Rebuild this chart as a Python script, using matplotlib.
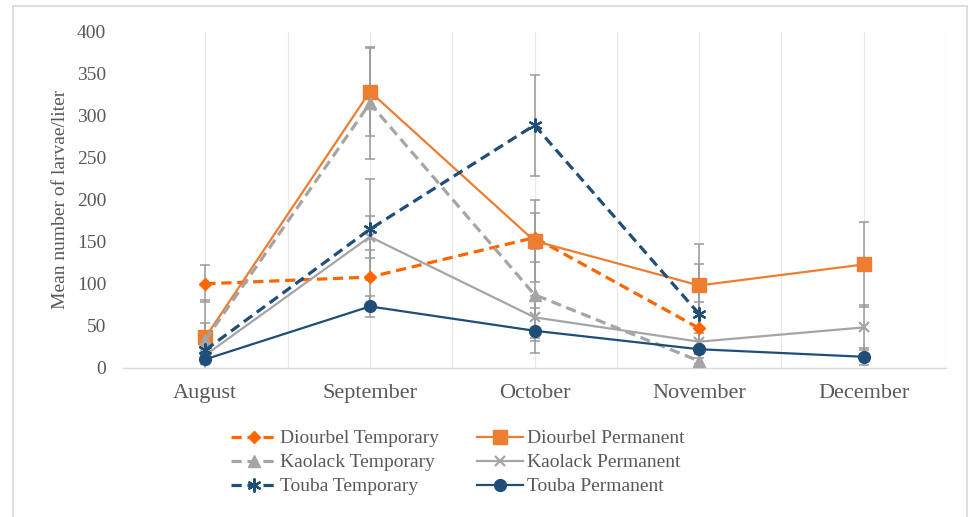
import matplotlib
matplotlib.use("Agg")
import matplotlib.pyplot as plt
from matplotlib.lines import Line2D
import numpy as np

months = ["August", "September", "October", "November", "December"]

diourbel_temp = [100, 108, 155, 47, None]
diourbel_temp_err = [22, 32, 29, 31, None]
diourbel_perm = [36, 329, 151, 98, 123]
diourbel_perm_err = [45, 53, 49, 49, 51]
kaolack_temp = [33, 315, 87, 8, None]
kaolack_temp_err = [20, 66, 55, 10, None]
kaolack_perm = [15, 156, 60, 31, 48]
kaolack_perm_err = [8, 25, 25, 10, 27]
touba_temp = [21, 165, 289, 64, None]
touba_temp_err = [10, 60, 60, 60, None]
touba_perm = [10, 73, 44, 22, 13]
touba_perm_err = [5, 12, 27, 10, 10]

series = [
    ("Diourbel Temporary", diourbel_temp, diourbel_temp_err, "#FF6600", "--", "D", 6, 2.3),
    ("Diourbel Permanent", diourbel_perm, diourbel_perm_err, "#ED7D31", "-", "s", 9.5, 1.6),
    ("Kaolack Temporary", kaolack_temp, kaolack_temp_err, "#A5A5A5", "--", "^", 8.5, 2.3),
    ("Kaolack Permanent", kaolack_perm, kaolack_perm_err, "#A5A5A5", "-", "x", 7.5, 1.6),
    ("Touba Temporary", touba_temp, touba_temp_err, "#1F4E79", "--", (6, 2, 0), 10, 2.3),
    ("Touba Permanent", touba_perm, touba_perm_err, "#1F4E79", "-", "o", 8.5, 1.6),
]

plt.rcParams["font.family"] = ["Liberation Serif", "DejaVu Serif"]

fig = plt.figure(figsize=(9.71, 5.17), dpi=100)
ax = fig.add_axes([123 / 971, 1 - 367.7 / 517, (946 - 123) / 971, (367.7 - 32) / 517])

x = np.arange(len(months))

# vertical gridlines at category centres and boundaries
for gx in np.arange(0, len(months), 0.5):
    ax.axvline(gx, color="#E8E8E8", lw=0.9, zorder=0)
ax.axvline(len(months) - 0.5, color="#E8E8E8", lw=0.9, zorder=0)

handles = []
for name, vals, errs, color, ls, mk, ms, lw in series:
    idx = [i for i, v in enumerate(vals) if v is not None]
    xs = x[idx]
    ys = np.array([vals[i] for i in idx], dtype=float)
    es = np.array([errs[i] for i in idx], dtype=float)
    ax.errorbar(xs, ys, yerr=es, fmt="none", ecolor="#9A9A9A", elinewidth=1.1,
                capsize=3.5, capthick=1.1, zorder=2)
    kw = dict(color=color, lw=lw, ls=ls, marker=mk, markersize=ms,
              markerfacecolor=color, markeredgecolor=color, zorder=3)
    if mk in ("x", (6, 2, 0)):
        kw["markeredgewidth"] = 1.6
    ln, = ax.plot(xs, ys, label=name, **kw)
    if ls == "--":
        ln.set_dashes((3.2, 1.8))
    handles.append(ln)

ax.set_xlim(-0.5, len(months) - 0.5)
ax.set_ylim(0, 400)
ax.set_yticks(np.arange(0, 401, 50))
ax.set_xticks(x)
ax.set_xticklabels(months, fontsize=16, color="#595959")
ax.tick_params(axis="y", labelsize=14, labelcolor="#595959", length=0, pad=12)
ax.tick_params(axis="x", length=0, pad=12)
for s in ["top", "right", "left"]:
    ax.spines[s].set_visible(False)
ax.spines["bottom"].set_color("#D9D9D9")
ax.spines["bottom"].set_linewidth(1.0)

ax.set_ylabel("Mean number of larvae/liter", fontsize=14, color="#595959")
ax.yaxis.set_label_coords(-0.0656, 0.5)

# legend in order: rows Diourbel, Kaolack, Touba; columns Temporary, Permanent
order = [0, 2, 4, 1, 3, 5]
leg = fig.legend([handles[i] for i in order], [series[i][0] for i in order],
                 ncol=2, loc="upper left", bbox_to_anchor=(223 / 971, 1 - 422 / 517),
                 frameon=False, fontsize=14, handlelength=2.35, labelspacing=0.33,
                 columnspacing=1.95, handletextpad=0.2, borderaxespad=0)
for t in leg.get_texts():
    t.set_color("#595959")

# outer border
bc = "#D9D9D9"
fig.add_artist(Line2D([13 / 971, 13 / 971], [0, 1 - 6 / 517], transform=fig.transFigure, color=bc, lw=1.2))
fig.add_artist(Line2D([13 / 971, 967 / 971], [1 - 6 / 517, 1 - 6 / 517], transform=fig.transFigure, color=bc, lw=1.2))
fig.add_artist(Line2D([967 / 971, 967 / 971], [0, 1 - 6 / 517], transform=fig.transFigure, color=bc, lw=1.2))

fig.savefig("out.png", dpi=100)
